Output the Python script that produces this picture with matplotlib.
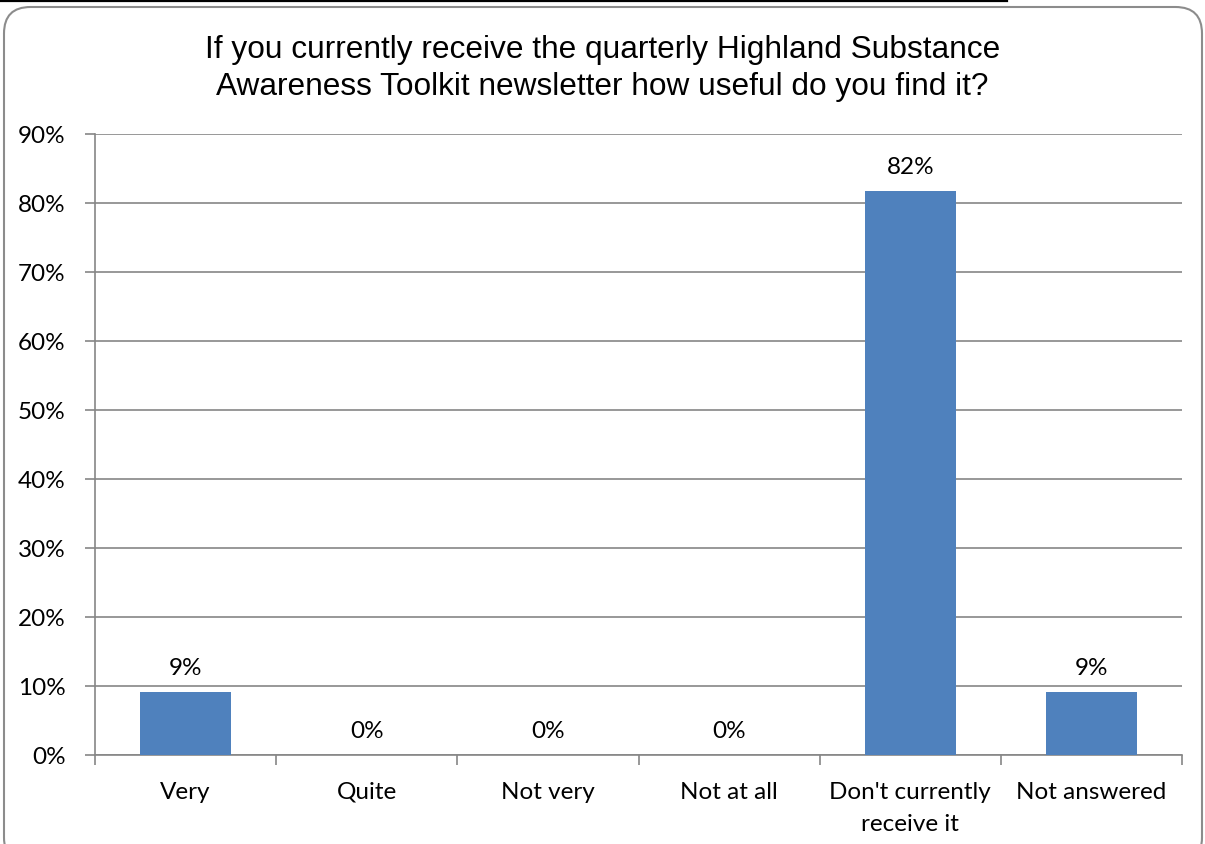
import matplotlib
matplotlib.use("Agg")
import matplotlib.pyplot as plt
from matplotlib.patches import FancyBboxPatch
from matplotlib.ticker import MultipleLocator, PercentFormatter, FixedLocator
from matplotlib.lines import Line2D

categories = ["Very", "Quite", "Not very", "Not at all", "Don't currently\nreceive it", "Not answered"]
values = [0.091, 0.0, 0.0, 0.0, 0.818, 0.091]
labels = ["9%", "0%", "0%", "0%", "82%", "9%"]
title = "If you currently receive the quarterly Highland Substance\nAwareness Toolkit newsletter how useful do you find it?"

W, H = 1205, 845
fig = plt.figure(figsize=(W / 100, H / 100), dpi=100)
fig.patch.set_facecolor("white")

# rounded chart frame
frame = FancyBboxPatch((4 / W, -20 / H), (W - 7) / W, (H - 8 + 20) / H,
                       boxstyle="round,pad=0,rounding_size=0.022",
                       transform=fig.transFigure, facecolor="white",
                       edgecolor="#8c8c8c", linewidth=1.5, zorder=-5,
                       mutation_aspect=W / H)
fig.patches.append(frame)
# cut-off underline from the page above
fig.add_artist(Line2D([0, 1007 / W], [1 - 2 / H, 1 - 2 / H], transform=fig.transFigure,
                      color="black", linewidth=1.6))

ax = fig.add_axes([95 / W, 1 - 756 / H, (1182 - 95) / W, (756 - 135) / H])
ax.set_zorder(2)
ax.set_facecolor("none")
x = list(range(len(categories)))
bars = ax.bar(x, values, width=0.5, color="#4F81BD", zorder=3)
ax.set_xlim(-0.5, len(categories) - 0.5)
ax.set_ylim(0, 0.9)
ax.yaxis.set_major_locator(MultipleLocator(0.1))
ax.yaxis.set_major_formatter(PercentFormatter(1.0, decimals=0))
ax.grid(axis="y", color="#868686", linewidth=1.2, zorder=0)
for s in ["top", "right"]:
    ax.spines[s].set_visible(False)
for s in ["left", "bottom"]:
    ax.spines[s].set_color("#868686")
    ax.spines[s].set_linewidth(1.2)

tick_font = dict(family=["Lato", "DejaVu Sans"], size=17.5)
ax.set_xticks(x)
ax.set_xticklabels(categories, **tick_font, linespacing=1.68)
ax.tick_params(axis="x", which="major", length=0, pad=18.5)
ax.xaxis.set_minor_locator(FixedLocator([i - 0.5 for i in range(len(categories) + 1)]))
ax.tick_params(axis="x", which="minor", length=7, color="#868686", width=1.2)
ax.tick_params(axis="y", length=7, color="#868686", width=1.2, pad=14)
for t in ax.get_yticklabels():
    t.set_fontfamily(["Lato", "DejaVu Sans"])
    t.set_fontsize(17.5)

for xi, v, lab in zip(x, values, labels):
    ax.annotate(lab, (xi, v), xytext=(0, 17.5), textcoords="offset points",
                ha="center", va="center", **tick_font)

fig.text(0.5, 1 - 68.5 / H, title, ha="center", va="center",
         family=["Liberation Sans", "DejaVu Sans"], fontsize=22.8, linespacing=1.27)

fig.savefig("out.png", dpi=100)
